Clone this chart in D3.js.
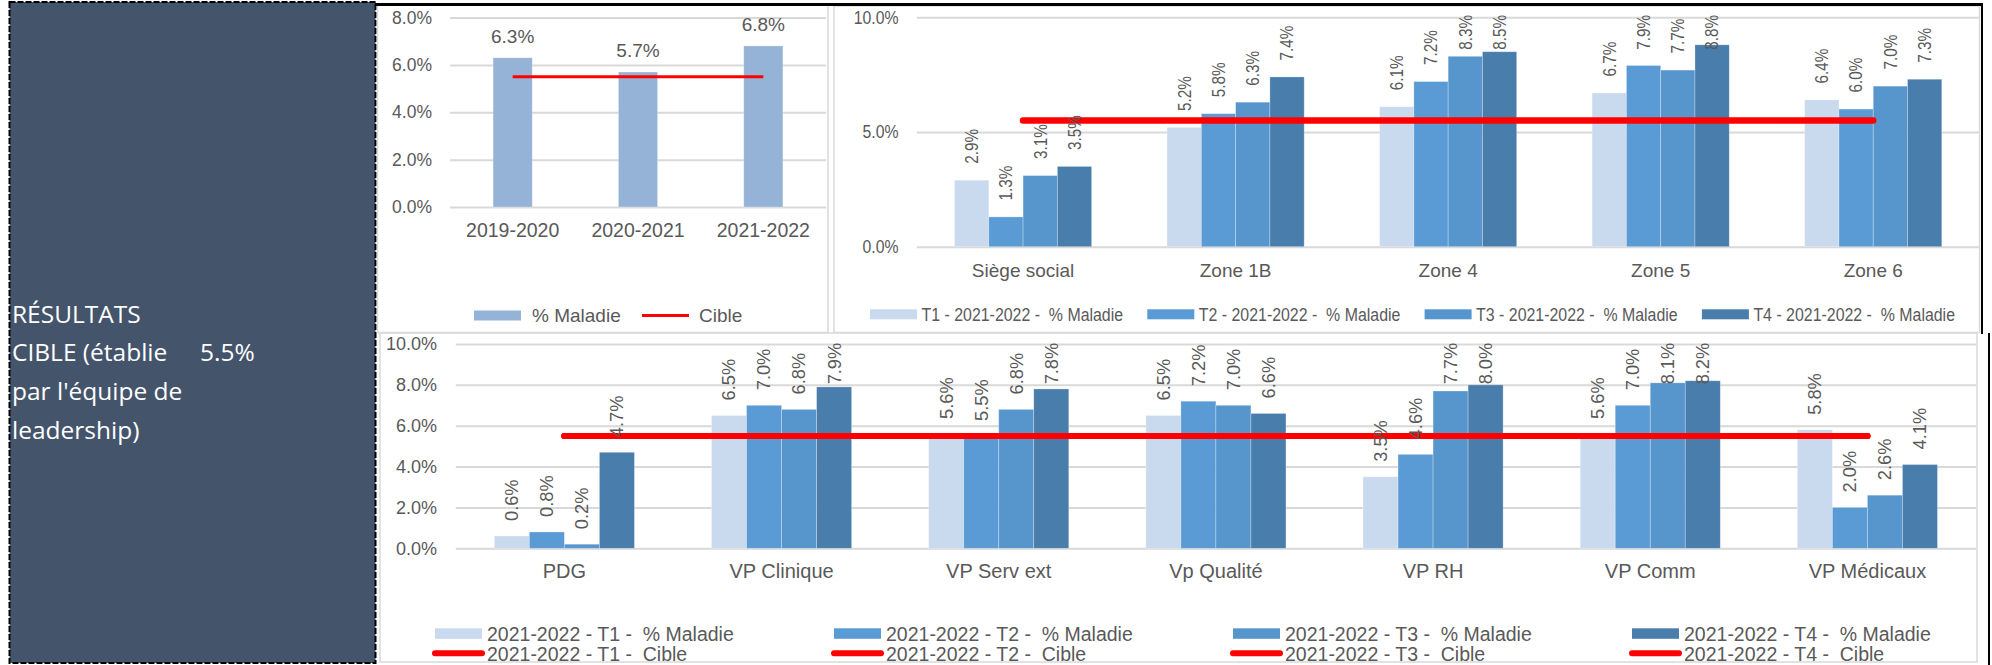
<!DOCTYPE html>
<html>
<head>
<meta charset="utf-8">
<script src="https://cdn.jsdelivr.net/npm/d3@7"></script>
<style>
  html, body { margin: 0; padding: 0; background: #fff; }
  svg { display: block; }
  text { font-family: "Liberation Sans", Arial, sans-serif; fill: #595959; white-space: pre; }
</style>
</head>
<body>
<svg id="chart" width="1992" height="665"></svg>
<script>
// ---- Annual sickness rate vs target ----
const years = ["2019-2020", "2020-2021", "2021-2022"];
const maladieAnnuelle = [6.3, 5.7, 6.8];
const cibleAnnuelle = [5.5, 5.5, 5.5];
const ticksAnnuel = [0, 2, 4, 6, 8];
const legendAnnuel = ["% Maladie", "Cible"];

// ---- Quarterly rate by zone, 2021-2022 ----
const zones = ["Siège social", "Zone 1B", "Zone 4", "Zone 5", "Zone 6"];
const zonesT1 = [2.9, 5.2, 6.1, 6.7, 6.4];
const zonesT2 = [1.3, 5.8, 7.2, 7.9, 6.0];
const zonesT3 = [3.1, 6.3, 8.3, 7.7, 7.0];
const zonesT4 = [3.5, 7.4, 8.5, 8.8, 7.3];
const zonesCible = [5.5, 5.5, 5.5, 5.5, 5.5];
const ticksZones = [0, 5, 10];
const legendZones = [
  "T1 - 2021-2022 -  % Maladie",
  "T2 - 2021-2022 -  % Maladie",
  "T3 - 2021-2022 -  % Maladie",
  "T4 - 2021-2022 -  % Maladie"
];

// ---- Quarterly rate by vice-presidency, 2021-2022 ----
const directions = ["PDG", "VP Clinique", "VP Serv ext", "Vp Qualité", "VP RH", "VP Comm", "VP Médicaux"];
const vpT1 = [0.6, 6.5, 5.6, 6.5, 3.5, 5.6, 5.8];
const vpT2 = [0.8, 7.0, 5.5, 7.2, 4.6, 7.0, 2.0];
const vpT3 = [0.2, 6.8, 6.8, 7.0, 7.7, 8.1, 2.6];
const vpT4 = [4.7, 7.9, 7.8, 6.6, 8.0, 8.2, 4.1];
const vpCibleT1 = [5.5, 5.5, 5.5, 5.5, 5.5, 5.5, 5.5];
const vpCibleT2 = [5.5, 5.5, 5.5, 5.5, 5.5, 5.5, 5.5];
const vpCibleT3 = [5.5, 5.5, 5.5, 5.5, 5.5, 5.5, 5.5];
const vpCibleT4 = [5.5, 5.5, 5.5, 5.5, 5.5, 5.5, 5.5];
const ticksVp = [0, 2, 4, 6, 8, 10];
const legendVpBars = [
  "2021-2022 - T1 -  % Maladie",
  "2021-2022 - T2 -  % Maladie",
  "2021-2022 - T3 -  % Maladie",
  "2021-2022 - T4 -  % Maladie"
];
const legendVpLines = [
  "2021-2022 - T1 -  Cible",
  "2021-2022 - T2 -  Cible",
  "2021-2022 - T3 -  Cible",
  "2021-2022 - T4 -  Cible"
];

// ---- Side panel ----
const panelLines = ["RÉSULTATS", "CIBLE (établie", "par l'équipe de", "leadership)"];
const panelTarget = "5.5%";

// ---- Styles ----
const RED = "#FF0000";
const GRID = "#D9D9D9";
const ANNUAL = "#95B3D7";
const QUARTER = ["#C9D9EE", "#5B9BD5", "#5795CD", "#497DAB"];

const fmt = v => v.toFixed(1) + "%";
const svg = d3.select("#chart");

function transformOf(x, y, o) {
  let tf = `translate(${x},${y})`;
  if (o.rotate) tf += ` rotate(${o.rotate})`;
  if (o.sx && o.sx !== 1) tf += ` scale(${o.sx},1)`;
  return tf;
}

function label(g, str, x, y, o = {}) {
  const t = g.append("text")
    .attr("transform", transformOf(x, y, o))
    .attr("text-anchor", o.anchor || "start")
    .style("font-size", o.size + "px")
    .text(str);
  if (o.dy) t.attr("dy", o.dy);
  if (o.fill) t.style("fill", o.fill);
  if (o.family) t.style("font-family", o.family);
  return t;
}

function frame(x, y, w, h) {
  svg.append("rect").attr("x", x).attr("y", y).attr("width", w).attr("height", h)
    .attr("fill", "#fff").attr("stroke", GRID).attr("stroke-width", 1.5);
}

function barPanel(cfg) {
  const g = svg.append("g");
  const x = d3.scaleBand().domain(cfg.categories).range([cfg.left, cfg.right]).padding(0);
  const y = d3.scaleLinear().domain([0, cfg.max]).range([cfg.zero, cfg.top]);
  const n = cfg.series.length;
  const bw = x.bandwidth() / (n + cfg.gap);
  const slot = d3.scaleBand().domain(d3.range(n)).range([-n * bw / 2, n * bw / 2]);
  const cx = c => x(c) + x.bandwidth() / 2;
  const sx = cfg.sx || 1;

  // value axis with gridlines
  const pad = cfg.left - cfg.tickRight;
  const ya = g.append("g").attr("transform", `translate(${cfg.left},0)`)
    .call(d3.axisLeft(y).tickValues(cfg.ticks).tickFormat(fmt)
      .tickSize(-(cfg.right - cfg.left)).tickPadding(pad));
  ya.select(".domain").remove();
  ya.selectAll(".tick line").attr("stroke", GRID).attr("stroke-width", 2);
  ya.selectAll(".tick text")
    .attr("fill", null)
    .attr("x", -pad / sx)
    .attr("transform", `scale(${sx},1)`)
    .style("font-size", cfg.tickSize + "px")
    .style("font-family", "\"Liberation Sans\", Arial, sans-serif");

  // bars
  cfg.series.forEach((s, i) => {
    g.append("g").selectAll("rect")
      .data(cfg.categories.map((c, j) => ({ c, v: s.values[j] })))
      .join("rect")
      .attr("x", d => cx(d.c) + slot(i))
      .attr("y", d => y(d.v))
      .attr("width", bw)
      .attr("height", d => cfg.zero - y(d.v))
      .attr("fill", s.color)
      .attr("stroke", "rgba(255,255,255,0.35)")
      .attr("stroke-width", 0.8);
  });

  // target lines
  const line = d3.line().x((d, j) => cx(cfg.categories[j])).y(d => y(d));
  cfg.targets.forEach(t => {
    g.append("path").attr("d", line(t)).attr("fill", "none")
      .attr("stroke", RED).attr("stroke-width", cfg.lineWidth)
      .attr("stroke-linecap", cfg.cap);
  });

  // value labels (rotated labels are kept inside the plot top)
  cfg.series.forEach((s, i) => {
    cfg.categories.forEach((c, j) => {
      const v = s.values[j];
      const bx = cx(c) + slot(i) + bw / 2;
      if (cfg.rotated) {
        const o = { rotate: -90, sx: cfg.labelSx || 1, size: cfg.labelSize, dy: "0.35em" };
        const t = label(g, fmt(v), bx, y(v) - cfg.labelGap, o);
        const len = t.node().getComputedTextLength() * (cfg.labelSx || 1);
        let end = y(v) - cfg.labelGap;
        if (end - len < cfg.labelTop) end = cfg.labelTop + len;
        t.attr("transform", transformOf(bx, end, o));
      } else {
        label(g, fmt(v), bx, y(v) - cfg.labelGap,
          { anchor: "middle", size: cfg.labelSize });
      }
    });
  });

  // category axis
  const xa = g.append("g").attr("transform", `translate(0,${cfg.zero})`)
    .call(d3.axisBottom(x).tickSize(0)
      .tickPadding(cfg.catBaseline - cfg.zero - 0.71 * cfg.catSize));
  xa.select(".domain").remove();
  xa.selectAll(".tick text")
    .attr("fill", null)
    .attr("transform", `scale(${cfg.catSx || 1},1)`)
    .style("font-size", cfg.catSize + "px")
    .style("font-family", "\"Liberation Sans\", Arial, sans-serif");
  return g;
}

// ---- Side panel ----
svg.append("rect").attr("x", 9.5).attr("y", 2).attr("width", 366).attr("height", 661)
  .attr("fill", "#44546A").attr("stroke", "#000").attr("stroke-width", 2)
  .attr("stroke-dasharray", "6 2");
const side = svg.append("g");
const sideFont = "\"Open Sans\", \"Noto Sans\", sans-serif";
panelLines.forEach((s, i) => {
  label(side, s, 12, 322.5 + i * 38.9, { size: 24.5, fill: "#fff", family: sideFont });
});
label(side, panelTarget, 200, 322.5 + 38.9, { size: 24.5, fill: "#fff", family: sideFont });

// ---- Frames ----
frame(377.5, 5, 450.5, 327.5);
frame(834, 6, 1145.5, 326.5);
frame(380, 333, 1597, 329);

// ---- Annual chart ----
barPanel({
  categories: years, max: 8, ticks: ticksAnnuel,
  left: 450, right: 826, zero: 207, top: 17.5,
  tickRight: 432, tickSize: 17.5,
  series: [{ values: maladieAnnuelle, color: ANNUAL }],
  gap: 2.2,
  targets: [cibleAnnuelle], lineWidth: 3, cap: "butt",
  rotated: false, labelGap: 14.5, labelSize: 19,
  catBaseline: 237.3, catSize: 19.5
});
const lg1 = svg.append("g");
lg1.append("rect").attr("x", 474).attr("y", 310.5).attr("width", 47).attr("height", 10).attr("fill", ANNUAL);
label(lg1, legendAnnuel[0], 532, 321.5, { size: 19 });
lg1.append("line").attr("x1", 642).attr("x2", 689).attr("y1", 315.5).attr("y2", 315.5)
  .attr("stroke", RED).attr("stroke-width", 3);
label(lg1, legendAnnuel[1], 699, 321.5, { size: 19 });

// ---- Zones chart ----
barPanel({
  categories: zones, max: 10, ticks: ticksZones,
  left: 916.8, right: 1979.5, zero: 246.7, top: 17.3,
  tickRight: 898.5, tickSize: 18.6, sx: 0.85,
  series: [zonesT1, zonesT2, zonesT3, zonesT4].map((v, i) => ({ values: v, color: QUARTER[i] })),
  gap: 2.2,
  targets: [zonesCible], lineWidth: 6.5, cap: "round",
  rotated: true, labelGap: 16.5, labelSize: 18, labelSx: 0.85, labelTop: 15,
  catBaseline: 277.3, catSize: 19
});
const lg2 = svg.append("g");
legendZones.forEach((s, i) => {
  const lx = 870 + i * 277.3;
  lg2.append("rect").attr("x", lx).attr("y", 309.3).attr("width", 47).attr("height", 10).attr("fill", QUARTER[i]);
  label(lg2, s, lx + 51.5, 320.7, { size: 18.5, sx: 0.86 });
});

// ---- Vice-presidency chart ----
barPanel({
  categories: directions, max: 10, ticks: ticksVp,
  left: 455.8, right: 1976, zero: 548.3, top: 344,
  tickRight: 437, tickSize: 18,
  series: [vpT1, vpT2, vpT3, vpT4].map((v, i) => ({ values: v, color: QUARTER[i] })),
  gap: 2.2,
  targets: [vpCibleT1, vpCibleT2, vpCibleT3, vpCibleT4], lineWidth: 6, cap: "round",
  rotated: true, labelGap: 15, labelSize: 18.3, labelTop: 342.7,
  catBaseline: 578.3, catSize: 20
});
const lg3 = svg.append("g");
legendVpBars.forEach((s, i) => {
  const lx = 435 + i * 399;
  lg3.append("rect").attr("x", lx).attr("y", 628.3).attr("width", 47).attr("height", 10.5).attr("fill", QUARTER[i]);
  label(lg3, s, lx + 52, 640.7, { size: 19.5 });
  lg3.append("line").attr("x1", lx).attr("x2", lx + 47).attr("y1", 653.3).attr("y2", 653.3)
    .attr("stroke", RED).attr("stroke-width", 6).attr("stroke-linecap", "round");
  label(lg3, legendVpLines[i], lx + 52, 660.5, { size: 19.5 });
});

// ---- Outer black rules ----
svg.append("rect").attr("x", 375).attr("y", 3).attr("width", 1608).attr("height", 3).attr("fill", "#000");
svg.append("rect").attr("x", 1981).attr("y", 3).attr("width", 2).attr("height", 331).attr("fill", "#000");
svg.append("rect").attr("x", 1988).attr("y", 333).attr("width", 2).attr("height", 332).attr("fill", "#000");
</script>
</body>
</html>
